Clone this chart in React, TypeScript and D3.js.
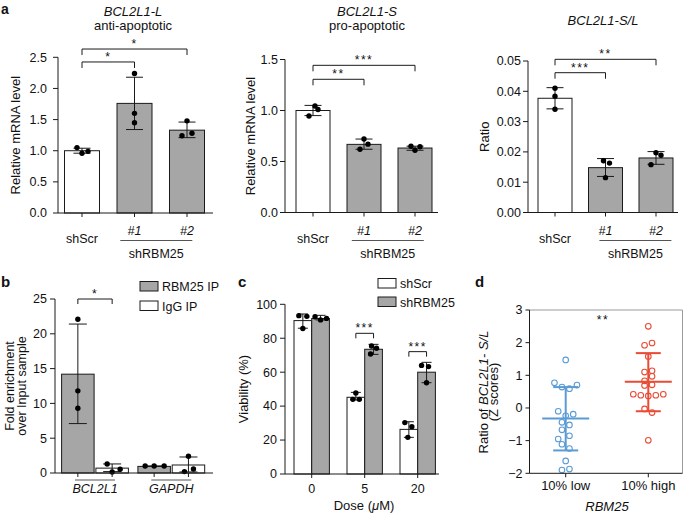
import React from "react";
import * as d3 from "d3";

const FONT = "'Liberation Sans', Arial, Helvetica, sans-serif";
const GRAY = "#a6a6a6";
const INK = "#1a1a1a";
const BLUE = "#5b9bd5";
const RED = "#e94b35";

// ---------- Panel a ----------
const aCategories = ["shScr", "#1", "#2"];
const aGroupLabel = "shRBM25";

const longTitle = ["BCL2L1-L", "anti-apoptotic"];
const longMeans = [1.0, 1.76, 1.33];
const longErrLow = [0.96, 1.34, 1.21];
const longErrHigh = [1.04, 2.18, 1.46];
const longPoints = [[1.05, 0.96, 0.99], [2.24, 1.6, 1.45], [1.48, 1.24, 1.28]];
const longTicks = [0, 0.5, 1, 1.5, 2, 2.5];
const longSig = [
  { from: 0, to: 1, level: 2.425, label: "*" },
  { from: 0, to: 2, level: 2.633, label: "*" },
];

const shortTitle = ["BCL2L1-S", "pro-apoptotic"];
const shortMeans = [1.0, 0.668, 0.632];
const shortErrLow = [0.95, 0.62, 0.61];
const shortErrHigh = [1.05, 0.72, 0.65];
const shortPoints = [[1.044, 0.946, 1.01], [0.72, 0.62, 0.67], [0.65, 0.61, 0.645]];
const shortTicks = [0, 0.5, 1, 1.5];
const shortSig = [
  { from: 0, to: 1, level: 1.306, label: "**" },
  { from: 0, to: 2, level: 1.443, label: "***" },
];

const ratioTitle = ["BCL2L1-S/L"];
const ratioMeans = [0.0377, 0.0148, 0.018];
const ratioErrLow = [0.0342, 0.0119, 0.0159];
const ratioErrHigh = [0.0412, 0.0178, 0.0201];
const ratioPoints = [[0.041, 0.0384, 0.0341], [0.0171, 0.0163, 0.0115], [0.0197, 0.0189, 0.0158]];
const ratioTicks = [0, 0.01, 0.02, 0.03, 0.04, 0.05];
const ratioSig = [
  { from: 0, to: 1, level: 0.04614, label: "***" },
  { from: 0, to: 2, level: 0.05056, label: "**" },
];

// ---------- Panel b ----------
const bGenes = ["BCL2L1", "GAPDH"];
const bSeries = ["RBM25 IP", "IgG IP"];
const bMeans = [[14.2, 0.95], [0.7, 1.15]];
const bErrLow = [[7.1, 0.93], [0.2, 0.15]];
const bErrHigh = [[21.4, 1.02], [1.3, 2.3]];
const bPoints = [
  [[22.1, 11.8, 9.3], [1.0, 1.0, 1.0]],
  [[1.3, 0.14, 0.53], [2.4, 0.2, 0.57]],
];
const bTicks = [0, 5, 10, 15, 20, 25];
const bSig = [{ gene: 0, level: 25, label: "*" }];

// ---------- Panel c ----------
const cDoses = ["0", "5", "20"];
const cSeries = ["shScr", "shRBM25"];
const cMeans = [[90.4, 45.2, 26.3], [91.6, 73.5, 60.0]];
const cErrLow = [[85.9, 43.6, 21.6], [90.8, 70.5, 53.8]];
const cErrHigh = [[94.3, 48.1, 30.8], [93.5, 76.4, 65.8]];
const cPoints = [
  [[93.3, 92.9, 85.7], [47.7, 44.0, 44.0], [30.3, 27.9, 21.6]],
  [[92.7, 90.8, 91.7], [75.4, 74.1, 70.7], [64.0, 63.3, 53.8]],
];
const cTicks = [0, 20, 40, 60, 80, 100];
const cSig = [
  { dose: 1, level: 82.9, label: "***" },
  { dose: 2, level: 72.1, label: "***" },
];

// ---------- Panel d ----------
const dCategories = ["10% low", "10% high"];
const dLow = [1.47, 0.77, 0.64, 0.59, 0.7, -0.1, -0.24, -0.19, -0.44, -0.52, -0.67, -0.85, -0.95, -1.11, -1.24, -1.62, -1.9, -1.87];
const dHigh = [2.5, 1.92, 1.99, 1.58, 1.1, 1.14, 0.97, 0.83, 0.69, 0.71, 0.42, 0.39, 0.37, 0.39, 0.42, -0.03, -0.14, -0.99];
const dMean = [-0.32, 0.8];
const dSdLow = [-1.3, -0.1];
const dSdHigh = [0.64, 1.68];
const dTicks = [-2, -1, 0, 1, 2, 3];

// layout-only jitter (px / slots)
const longJit = [[-5, 0, 6], [0, 0, 0], [0, -5, 5]];
const shortJit = [[2, -4, 5], [0, -4, 4], [-4, 0, 5]];
const ratioJit = [[0, 0, 0], [-2, 4, 0], [0, 5, -5]];
const bJit = [[[0, 0, 0], [-9, 0, 10]], [[-5, 0, 8], [0, -4, 5]]];
const cJit = [[[-4, 4, 0], [0, -3, 3.5], [-4, 3, -1]], [[-5.5, 0, 6], [-2, 3, -3], [-5, 2, 0]]];
const dLowSlots = [0, -3, -1, 1, 3, -2, 0, 2, -1, 1, -1, 1, -2, -1, 1, 0, -1, 1];
const dHighSlots = [0, -1, 1, 0, -1, 1, 1, -1, -1, 1, -4, -2, 0, 2, 4, -1, 1, 0];

const FS = 12.5;

function YAxis({ x, y, ticks, fmt, pad = 3, tick = 5 }: any) {
  const f = d3.format(fmt);
  return (
    <g>
      <line x1={x} x2={x} y1={y(ticks[0])} y2={y(ticks[ticks.length - 1])} stroke={INK} strokeWidth={1} />
      {ticks.map((t: number) => (
        <g key={t}>
          <line x1={x - tick} x2={x} y1={y(t)} y2={y(t)} stroke={INK} strokeWidth={1} />
          <text x={x - tick - pad} y={y(t)} dy="0.35em" textAnchor="end" fontSize={FS}>
            {f(t).replace("-", "\u2212")}
          </text>
        </g>
      ))}
    </g>
  );
}

function ErrBar({ x, y1, y2, cap, color = INK, w = 1 }: any) {
  return (
    <g stroke={color} strokeWidth={w}>
      <line x1={x} x2={x} y1={y1} y2={y2} />
      <line x1={x - cap} x2={x + cap} y1={y1} y2={y1} />
      <line x1={x - cap} x2={x + cap} y1={y2} y2={y2} />
    </g>
  );
}

function Bracket({ x1, x2, yy, drop, label }: any) {
  return (
    <g>
      <path d={`M${x1},${yy + drop}V${yy}H${x2}V${yy + drop}`} fill="none" stroke={INK} strokeWidth={1} />
      <text x={(x1 + x2) / 2} y={yy - 1} textAnchor="middle" fontSize={12} letterSpacing={1.5}>
        {label}
      </text>
    </g>
  );
}

function PanelA(p: any) {
  const y = d3.scaleLinear().domain([0, p.ticks[p.ticks.length - 1]]).range([p.y0, p.yTop]);
  const x = d3.scalePoint<string>().domain(aCategories).range([p.c0, p.c2]);
  const cx = (i: number) => x(aCategories[i]) as number;
  const mid = (p.y0 + p.yTop) / 2;
  return (
    <g>
      {p.title.map((t: string, i: number) => (
        <text key={i} x={p.titleX} y={p.titleY[i]} textAnchor="middle" fontSize={13} fontStyle={i === 0 ? "italic" : "normal"}>
          {t}
        </text>
      ))}
      {p.means.map((m: number, i: number) => (
        <rect key={i} x={cx(i) - p.barW / 2} y={y(m)} width={p.barW} height={p.y0 - y(m)}
          fill={i === 0 ? "#fff" : GRAY} stroke={INK} strokeWidth={1} />
      ))}
      {p.means.map((m: number, i: number) => (
        <ErrBar key={i} x={cx(i)} y1={y(p.lo[i])} y2={y(p.hi[i])} cap={8.5} />
      ))}
      {p.pts.map((arr: number[], i: number) =>
        arr.map((v, j) => <circle key={i + "-" + j} cx={cx(i) + p.jit[i][j]} cy={y(v)} r={2.7} fill="#000" />)
      )}
      <YAxis x={p.axisX} y={y} ticks={p.ticks} fmt={p.fmt} pad={p.pad} />
      <line x1={p.axisX} x2={p.axisEnd} y1={p.y0} y2={p.y0} stroke={INK} />
      {aCategories.map((c, i) => (
        <line key={c} x1={cx(i)} x2={cx(i)} y1={p.y0} y2={p.y0 + 4} stroke={INK} />
      ))}
      <text x={cx(0)} y={243} textAnchor="middle" fontSize={FS}>{aCategories[0]}</text>
      <text x={cx(1)} y={235} textAnchor="middle" fontSize={FS} fontStyle="italic">{aCategories[1]}</text>
      <text x={cx(2)} y={235} textAnchor="middle" fontSize={FS} fontStyle="italic">{aCategories[2]}</text>
      <line x1={p.lineC - 36} x2={p.lineC + 36} y1={240.5} y2={240.5} stroke="#555" strokeWidth={1} />
      <text x={p.lineC} y={258} textAnchor="middle" fontSize={FS}>{aGroupLabel}</text>
      <text transform={`translate(${p.ylabelX},${mid}) rotate(-90)`} textAnchor="middle" fontSize={13}>
        {p.ylabel}
      </text>
      {p.sig.map((s: any, k: number) => (
        <Bracket key={k} x1={cx(s.from)} x2={cx(s.to)} yy={y(s.level)} drop={6} label={s.label} />
      ))}
    </g>
  );
}

function PanelB() {
  const y0 = 473, yTop = 299, axisX = 55, axisEnd = 213;
  const y = d3.scaleLinear().domain([0, 25]).range([y0, yTop]);
  const g = d3.scalePoint<string>().domain(bGenes).range([95, 171.3]);
  const barW = 32.5, step = 34.3;
  const bx = (s: number, gi: number) => (g(bGenes[gi]) as number) + (s - 0.5) * step;
  return (
    <g>
      <text x={1} y={287} fontSize={15} fontWeight="bold">b</text>
      {bSeries.map((sname, s) =>
        bGenes.map((gn, gi) => {
          const m = bMeans[s][gi];
          return (
            <g key={sname + gn}>
              <rect x={bx(s, gi) - barW / 2} y={y(m)} width={barW} height={y0 - y(m)}
                fill={s === 0 ? GRAY : "#fff"} stroke={INK} />
              <ErrBar x={bx(s, gi)} y1={y(bErrLow[s][gi])} y2={y(bErrHigh[s][gi])} cap={9} />
              {bPoints[s][gi].map((v, j) => (
                <circle key={j} cx={bx(s, gi) + bJit[s][gi][j]} cy={y(v)} r={2.7} fill="#000" />
              ))}
            </g>
          );
        })
      )}
      <YAxis x={axisX} y={y} ticks={bTicks} fmt="d" pad={3} />
      <line x1={axisX} x2={axisEnd} y1={y0} y2={y0} stroke={INK} />
      {bSeries.map((s, si) => bGenes.map((gn, gi) => (
        <line key={s + gn} x1={bx(si, gi)} x2={bx(si, gi)} y1={y0} y2={y0 + 4} stroke={INK} />
      )))}
      {bGenes.map((gn) => (
        <g key={gn}>
          <line x1={(g(gn) as number) - 20} x2={(g(gn) as number) + 20} y1={480} y2={480} stroke="#555" />
          <text x={g(gn)} y={493} textAnchor="middle" fontSize={FS} fontStyle="italic">{gn}</text>
        </g>
      ))}
      {bSig.map((s, k) => (
        <Bracket key={k} x1={bx(0, s.gene)} x2={bx(1, s.gene)} yy={y(s.level)} drop={5} label={s.label} />
      ))}
      {bSeries.map((sname, s) => (
        <g key={sname}>
          <rect x={140} y={281.5 + s * 19.5} width={18} height={9.5} fill={s === 0 ? GRAY : "#fff"} stroke={INK} />
          <text x={162} y={291 + s * 19.5} fontSize={FS}>{sname}</text>
        </g>
      ))}
      <text transform={`translate(14,386) rotate(-90)`} textAnchor="middle" fontSize={12.5}>Fold enrichment</text>
      <text transform={`translate(25.5,386) rotate(-90)`} textAnchor="middle" fontSize={12.5}>over Input sample</text>
    </g>
  );
}

function PanelC() {
  const y0 = 474, yTop = 304.3, axisX = 285, axisEnd = 439;
  const y = d3.scaleLinear().domain([0, 100]).range([y0, yTop]);
  const g = d3.scalePoint<string>().domain(cDoses).range([311.7, 417.7]);
  const barW = 17.7;
  const bx = (s: number, di: number) => (g(cDoses[di]) as number) + (s - 0.5) * barW;
  return (
    <g>
      <text x={238} y={287} fontSize={15} fontWeight="bold">c</text>
      {cSeries.map((sname, s) =>
        cDoses.map((dn, di) => {
          const m = cMeans[s][di];
          return (
            <g key={sname + dn}>
              <rect x={bx(s, di) - barW / 2} y={y(m)} width={barW} height={y0 - y(m)}
                fill={s === 0 ? "#fff" : GRAY} stroke={INK} />
              <ErrBar x={bx(s, di)} y1={y(cErrLow[s][di])} y2={y(cErrHigh[s][di])} cap={5} />
              {cPoints[s][di].map((v, j) => (
                <circle key={j} cx={bx(s, di) + cJit[s][di][j]} cy={y(v)} r={2.7} fill="#000" />
              ))}
            </g>
          );
        })
      )}
      <YAxis x={axisX} y={y} ticks={cTicks} fmt="d" pad={3} />
      <line x1={axisX} x2={axisEnd} y1={y0} y2={y0} stroke={INK} />
      {cDoses.map((dn) => (
        <g key={dn}>
          <line x1={g(dn)} x2={g(dn)} y1={y0} y2={y0 + 4} stroke={INK} />
          <text x={g(dn)} y={493} textAnchor="middle" fontSize={FS}>{dn}</text>
        </g>
      ))}
      <text x={364} y={510} textAnchor="middle" fontSize={13}>
        Dose (<tspan fontStyle="italic">μ</tspan>M)
      </text>
      {cSig.map((s, k) => (
        <Bracket key={k} x1={bx(0, s.dose)} x2={bx(1, s.dose)} yy={y(s.level)} drop={5} label={s.label} />
      ))}
      {cSeries.map((sname, s) => (
        <g key={sname}>
          <rect x={378} y={278.5 + s * 18.5} width={18} height={9.5} fill={s === 0 ? "#fff" : GRAY} stroke={INK} />
          <text x={400} y={288 + s * 18.5} fontSize={FS}>{sname}</text>
        </g>
      ))}
      <text transform={`translate(247.5,389) rotate(-90)`} textAnchor="middle" fontSize={13}>Viability (%)</text>
    </g>
  );
}

function PanelD() {
  const left = 529.5, right = 682.5, top = 310, bottom = 473.3;
  const y = d3.scaleLinear().domain([-2, 3]).range([bottom, top]);
  const x = d3.scalePoint<string>().domain(dCategories).range([565.7, 648.3]);
  const slot = 3.75;
  const groups = [
    { vals: dLow, slots: dLowSlots, color: BLUE },
    { vals: dHigh, slots: dHighSlots, color: RED },
  ];
  return (
    <g>
      <text x={475} y={287} fontSize={15} fontWeight="bold">d</text>
      <line x1={left} x2={right} y1={top} y2={top} stroke="#9a9a9a" />
      <line x1={right} x2={right} y1={top} y2={bottom} stroke="#9a9a9a" />
      {groups.map((gr, gi) => {
        const cx = x(dCategories[gi]) as number;
        return (
          <g key={gi}>
            {gr.vals.map((v, j) => (
              <circle key={j} cx={cx + gr.slots[j] * slot} cy={y(v)} r={2.8} fill="none" stroke={gr.color} strokeWidth={1.1} />
            ))}
            <g stroke={gr.color} strokeWidth={2}>
              <line x1={cx - 23.5} x2={cx + 23.5} y1={y(dMean[gi])} y2={y(dMean[gi])} />
              <line x1={cx} x2={cx} y1={y(dSdLow[gi])} y2={y(dSdHigh[gi])} />
              <line x1={cx - 12.5} x2={cx + 12.5} y1={y(dSdLow[gi])} y2={y(dSdLow[gi])} />
              <line x1={cx - 12.5} x2={cx + 12.5} y1={y(dSdHigh[gi])} y2={y(dSdHigh[gi])} />
            </g>
          </g>
        );
      })}
      <YAxis x={left} y={y} ticks={dTicks} fmt="d" pad={3} tick={4} />
      <line x1={left} x2={right} y1={bottom} y2={bottom} stroke={INK} />
      {dCategories.map((c) => (
        <g key={c}>
          <line x1={x(c)} x2={x(c)} y1={bottom} y2={bottom + 4} stroke={INK} />
          <text x={x(c)} y={490} textAnchor="middle" fontSize={13}>{c}</text>
        </g>
      ))}
      <text x={607} y={510.5} textAnchor="middle" fontSize={13} fontStyle="italic">RBM25</text>
      <text x={603} y={324} textAnchor="middle" fontSize={12} letterSpacing={1.5}>**</text>
      <text transform={`translate(487.5,392) rotate(-90)`} textAnchor="middle" fontSize={13}>
        Ratio of <tspan fontStyle="italic">BCL2L1- S/L</tspan>
      </text>
      <text transform={`translate(498,392) rotate(-90)`} textAnchor="middle" fontSize={13}>(Z scores)</text>
    </g>
  );
}

export default function App() {
  return (
    <svg width={685} height={513} style={{ position: "absolute", left: 0, top: 0 }} fontFamily={FONT} fill="#111">
      <rect width={685} height={513} fill="#fff" />
      <text x={1} y={14} fontSize={14} fontWeight="bold">a</text>
      <PanelA title={longTitle} titleX={133} titleY={[16, 29.5]} means={longMeans} lo={longErrLow} hi={longErrHigh}
        pts={longPoints} jit={longJit} ticks={longTicks} fmt=".1f" sig={longSig}
        axisX={58} axisEnd={213} y0={213} yTop={57.3} c0={82} c2={187} barW={35}
        ylabel="Relative mRNA level" ylabelX={19.5} lineC={156.3} pad={6} />
      <PanelA title={shortTitle} titleX={367} titleY={[16, 29.5]} means={shortMeans} lo={shortErrLow} hi={shortErrHigh}
        pts={shortPoints} jit={shortJit} ticks={shortTicks} fmt=".1f" sig={shortSig}
        axisX={285} axisEnd={438} y0={212.5} yTop={59.5} c0={313} c2={415} barW={34}
        ylabel="Relative mRNA level" ylabelX={255} lineC={387.8} pad={2} />
      <PanelA title={ratioTitle} titleX={603} titleY={[25]} means={ratioMeans} lo={ratioErrLow} hi={ratioErrHigh}
        pts={ratioPoints} jit={ratioJit} ticks={ratioTicks} fmt=".2f" sig={ratioSig}
        axisX={528} axisEnd={678} y0={212.5} yTop={61} c0={555} c2={656} barW={34}
        ylabel="Ratio" ylabelX={489} lineC={635.4} pad={2} />
      <PanelB />
      <PanelC />
      <PanelD />
    </svg>
  );
}
